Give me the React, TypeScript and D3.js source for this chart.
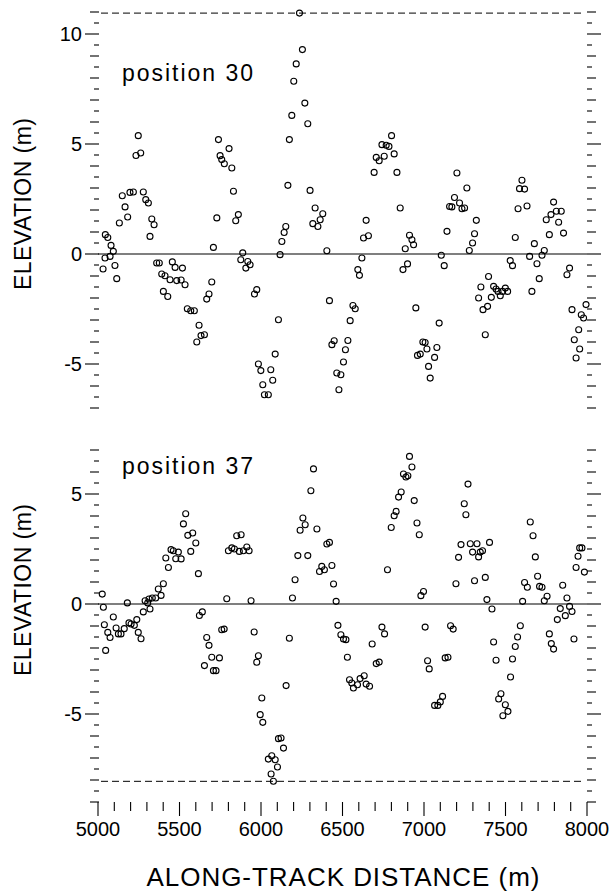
import * as d3 from "d3";

// along-track distance (m) and elevation (m)
const dist30 = [5031, 5043, 5045, 5060, 5074, 5080, 5094, 5104, 5115, 5131, 5149, 5166, 5182, 5196, 5217, 5233, 5247, 5262, 5278, 5293, 5309, 5319, 5330, 5344, 5360, 5376, 5391, 5401, 5411, 5428, 5442, 5456, 5473, 5483, 5510, 5518, 5534, 5548, 5569, 5591, 5606, 5620, 5632, 5653, 5667, 5681, 5698, 5708, 5729, 5739, 5749, 5759, 5775, 5804, 5821, 5831, 5845, 5861, 5876, 5888, 5907, 5919, 5933, 5960, 5974, 5984, 5999, 6011, 6021, 6045, 6060, 6072, 6087, 6107, 6117, 6128, 6142, 6152, 6165, 6174, 6189, 6201, 6216, 6236, 6254, 6269, 6287, 6301, 6318, 6332, 6349, 6363, 6379, 6404, 6420, 6435, 6449, 6465, 6478, 6490, 6506, 6518, 6533, 6547, 6564, 6578, 6594, 6604, 6619, 6629, 6645, 6659, 6694, 6707, 6725, 6742, 6756, 6768, 6785, 6801, 6817, 6834, 6854, 6871, 6885, 6899, 6911, 6926, 6936, 6950, 6960, 6977, 6993, 7007, 7018, 7028, 7038, 7065, 7079, 7093, 7106, 7124, 7141, 7157, 7171, 7187, 7202, 7218, 7233, 7249, 7263, 7278, 7298, 7310, 7321, 7335, 7349, 7362, 7376, 7390, 7396, 7413, 7427, 7442, 7454, 7468, 7482, 7499, 7513, 7529, 7543, 7560, 7577, 7586, 7601, 7617, 7632, 7648, 7662, 7677, 7693, 7707, 7724, 7738, 7750, 7769, 7779, 7795, 7812, 7826, 7842, 7856, 7877, 7893, 7908, 7922, 7933, 7949, 7955, 7965, 7979, 7994];
const elev30 = [-0.68, -0.18, 0.88, 0.75, -0.11, 0.39, 0.12, -0.52, -1.12, 1.41, 2.65, 2.14, 1.68, 2.8, 2.82, 4.48, 5.38, 4.59, 2.82, 2.47, 2.32, 0.8, 1.59, 1.33, -0.41, -0.41, -0.91, -1.7, -0.99, -1.93, -1.17, -0.36, -0.61, -1.21, -1.18, -0.64, -1.4, -2.49, -2.58, -2.58, -4.0, -3.24, -3.71, -3.67, -2.05, -1.82, -1.27, 0.3, 1.64, 5.2, 4.47, 4.29, 4.1, 4.79, 3.91, 2.85, 1.51, 1.79, -0.26, 0.05, -0.64, -0.34, -0.49, -1.82, -1.62, -5.0, -5.3, -5.94, -6.4, -6.4, -5.26, -5.74, -4.55, -2.99, -0.03, 0.57, 0.98, 1.25, 3.12, 5.2, 6.3, 7.85, 8.64, 10.95, 9.29, 6.86, 5.92, 2.89, 1.38, 2.09, 1.25, 1.56, 1.83, 0.15, -2.12, -4.12, -3.94, -5.41, -6.17, -5.49, -4.91, -4.35, -3.93, -3.03, -2.34, -2.49, -0.71, -0.97, -0.18, 0.73, 1.53, 0.83, 3.71, 4.39, 4.24, 4.97, 4.44, 4.94, 4.89, 5.38, 4.55, 3.71, 2.09, -0.71, 0.24, -0.45, 0.85, 0.65, 0.42, -2.45, -4.61, -4.55, -4.0, -4.02, -4.32, -5.11, -5.64, -4.7, -4.25, -3.14, -0.06, -0.53, 1.03, 2.16, 2.14, 2.57, 3.68, 2.32, 2.06, 2.09, 3.0, 0.16, 0.5, 0.92, 1.53, -2.0, -1.5, -2.53, -3.67, -2.38, -1.02, -1.97, -1.47, -1.59, -1.7, -1.9, -1.7, -1.55, -1.7, -0.3, -0.53, 0.75, 2.06, 2.97, 3.35, 2.95, 2.18, -0.11, -1.7, 0.47, -0.44, -1.12, -0.06, 0.16, 1.56, 0.88, 1.79, 2.36, 1.94, 1.44, 1.94, 0.95, -0.94, -0.64, -2.53, -3.9, -4.73, -3.44, -4.32, -2.76, -2.91, -2.3];

const dist37 = [5026, 5033, 5039, 5047, 5060, 5074, 5094, 5111, 5125, 5141, 5161, 5180, 5190, 5203, 5223, 5238, 5247, 5264, 5278, 5289, 5305, 5313, 5319, 5333, 5354, 5370, 5387, 5401, 5416, 5432, 5448, 5462, 5477, 5493, 5510, 5524, 5538, 5551, 5569, 5581, 5600, 5616, 5622, 5640, 5653, 5667, 5681, 5698, 5708, 5724, 5745, 5759, 5774, 5790, 5800, 5821, 5837, 5851, 5867, 5878, 5892, 5913, 5927, 5939, 5958, 5974, 5984, 5995, 6005, 6011, 6045, 6062, 6066, 6076, 6087, 6101, 6107, 6123, 6138, 6154, 6174, 6193, 6209, 6226, 6240, 6257, 6271, 6287, 6306, 6322, 6343, 6359, 6373, 6389, 6404, 6420, 6435, 6445, 6461, 6472, 6490, 6506, 6521, 6530, 6543, 6557, 6567, 6592, 6608, 6633, 6645, 6666, 6682, 6707, 6725, 6742, 6758, 6776, 6799, 6817, 6829, 6844, 6860, 6874, 6889, 6901, 6911, 6926, 6940, 6957, 6971, 6981, 6997, 7007, 7022, 7032, 7065, 7085, 7100, 7114, 7130, 7147, 7163, 7179, 7196, 7212, 7227, 7247, 7257, 7270, 7284, 7298, 7310, 7325, 7335, 7345, 7359, 7376, 7386, 7402, 7417, 7427, 7442, 7458, 7472, 7484, 7499, 7515, 7531, 7543, 7560, 7574, 7591, 7605, 7617, 7634, 7652, 7669, 7683, 7697, 7709, 7724, 7738, 7755, 7769, 7781, 7795, 7818, 7836, 7851, 7867, 7877, 7893, 7908, 7920, 7933, 7945, 7955, 7969, 7984];
const elev37 = [0.45, -0.15, -0.94, -2.11, -1.29, -1.52, -0.59, -1.09, -1.36, -1.36, -1.12, 0.05, -0.86, -0.91, -0.97, -0.71, -1.29, -1.58, -0.36, 0.15, 0.05, 0.23, -0.23, 0.27, 0.27, 0.68, 0.39, 0.92, 2.09, 1.66, 2.47, 2.42, 2.06, 2.36, 2.05, 3.64, 4.1, 3.12, 2.39, 3.23, 2.77, 1.38, -0.52, -0.36, -2.8, -1.52, -1.88, -2.42, -3.03, -3.03, -2.45, -1.17, -1.14, 0.24, 2.42, 2.55, 2.5, 3.1, 2.39, 3.15, 2.42, 2.59, 2.42, 0.15, -1.27, -2.65, -2.35, -5.03, -4.27, -5.38, -7.05, -7.73, -6.9, -8.06, -7.08, -7.41, -6.12, -6.09, -6.55, -3.71, -1.56, 0.27, 1.1, 2.2, 3.35, 3.91, 3.6, 2.2, 5.15, 6.14, 3.41, 1.48, 1.71, 1.56, 2.73, 2.8, 1.75, 0.91, 0.12, -0.97, -1.4, -1.59, -1.62, -2.42, -3.44, -3.59, -3.82, -3.67, -3.39, -3.26, -3.64, -3.74, -1.82, -2.71, -2.64, -1.05, -1.36, 1.56, 3.48, 4.01, 4.21, 4.86, 5.09, 5.91, 5.77, 5.83, 6.71, 6.23, 4.7, 3.68, 3.15, 0.38, 0.57, -1.05, -2.58, -2.95, -4.61, -4.61, -4.45, -4.2, -2.45, -2.42, -0.99, -1.14, 0.92, 2.12, 2.7, 4.56, 4.06, 5.45, 2.74, 2.36, 1.06, 2.74, 2.14, 2.36, 2.42, 1.21, 0.2, 2.8, -0.23, -1.73, -2.56, -4.32, -4.08, -5.08, -4.58, -4.88, -3.32, -2.5, -1.93, -1.5, -0.99, 0.12, 0.98, 0.76, 3.73, 3.1, 2.14, 1.26, 0.8, 0.76, 0.15, 0.35, -1.36, -1.8, -2.05, -0.71, -0.21, 0.85, -0.53, 0.27, -0.11, -0.34, -1.59, 1.66, 2.17, 2.55, 2.55, 1.45];

const xTickLabels = [5000, 5500, 6000, 6500, 7000, 7500, 8000];
const yLabels30 = [10, 5, 0, -5];
const yLabels37 = [5, 0, -5];

const FONT = "'Liberation Sans', Arial, Helvetica, sans-serif";

const x = d3.scaleLinear().domain([5000, 8000]).range([98, 587]);

const panels = [
  { name: "position 30", dist: dist30, elev: elev30, labels: yLabels30, domain: [-7, 11], range: [408, 12], nameY: 81, titleY: 204, dashed: "max" },
  { name: "position 37", dist: dist37, elev: elev37, labels: yLabels37, domain: [-9, 7], range: [802, 450], nameY: 474, titleY: 590, dashed: "min" },
];

const tickLen = (v: number) => (Math.abs(v % 5) < 1e-6 ? 14 : Math.abs(v % 1) < 1e-6 ? 9 : 5);

const Panel = ({ p }: { p: (typeof panels)[number] }) => {
  const y = d3.scaleLinear().domain(p.domain).range(p.range);
  const ticks = d3.range(p.domain[0], p.domain[1] + 0.01, 0.5);
  const dashVal = p.dashed === "max" ? d3.max(p.elev)! : d3.min(p.elev)!;
  const [x0, x1] = x.range();
  return (
    <g>
      {ticks.map((t, i) => (
        <g key={i} stroke="#000" strokeWidth={1.1}>
          <line x1={x0 + 1} x2={x0 + 1 - tickLen(t)} y1={y(t)} y2={y(t)} />
          <line x1={x1} x2={x1 + tickLen(t)} y1={y(t)} y2={y(t)} />
        </g>
      ))}
      {p.labels.map((v) => (
        <text key={v} x={82} y={y(v)} dy="0.36em" textAnchor="end" fontSize={20} fontFamily={FONT}>
          {v}
        </text>
      ))}
      <line x1={x0} x2={x1} y1={y(0)} y2={y(0)} stroke="#000" strokeWidth={1.2} />
      <line x1={x0 + 3} x2={x1 - 5} y1={y(dashVal)} y2={y(dashVal)} stroke="#000" strokeWidth={1} strokeDasharray="7,4" />
      {p.dist.map((d, i) => (
        <circle key={i} cx={x(d)} cy={y(p.elev[i])} r={3} fill="none" stroke="#000" strokeWidth={1.1} />
      ))}
      <text x={122} y={p.nameY} fontSize={23} fontFamily={FONT} textLength={131} lengthAdjust="spacing">
        {p.name}
      </text>
      <text
        transform={`translate(31,${p.titleY}) rotate(-90)`}
        textAnchor="middle"
        fontSize={23}
        fontFamily={FONT}
        textLength={172}
        lengthAdjust="spacing"
      >
        ELEVATION (m)
      </text>
    </g>
  );
};

export default function App() {
  const xTicks = d3.range(5000, 8001, 100);
  const axisY = panels[1].range[0];
  return (
    <div style={{ position: "absolute", left: 0, top: 0, background: "#fff" }}>
      <svg width={613} height={893} style={{ display: "block" }}>
        <rect width={613} height={893} fill="#fff" />
        {panels.map((p) => (
          <Panel key={p.name} p={p} />
        ))}
        {xTicks.map((t) => (
          <line key={t} x1={x(t)} x2={x(t)} y1={axisY} y2={axisY + (t % 500 === 0 ? 14 : 9)} stroke="#000" strokeWidth={1.1} />
        ))}
        {xTickLabels.map((t) => (
          <text key={t} x={x(t)} y={836} textAnchor="middle" fontSize={20} fontFamily={FONT}>
            {t}
          </text>
        ))}
        <text x={343} y={886} textAnchor="middle" fontSize={26} fontFamily={FONT} textLength={393} lengthAdjust="spacing">
          ALONG-TRACK DISTANCE (m)
        </text>
      </svg>
    </div>
  );
}
